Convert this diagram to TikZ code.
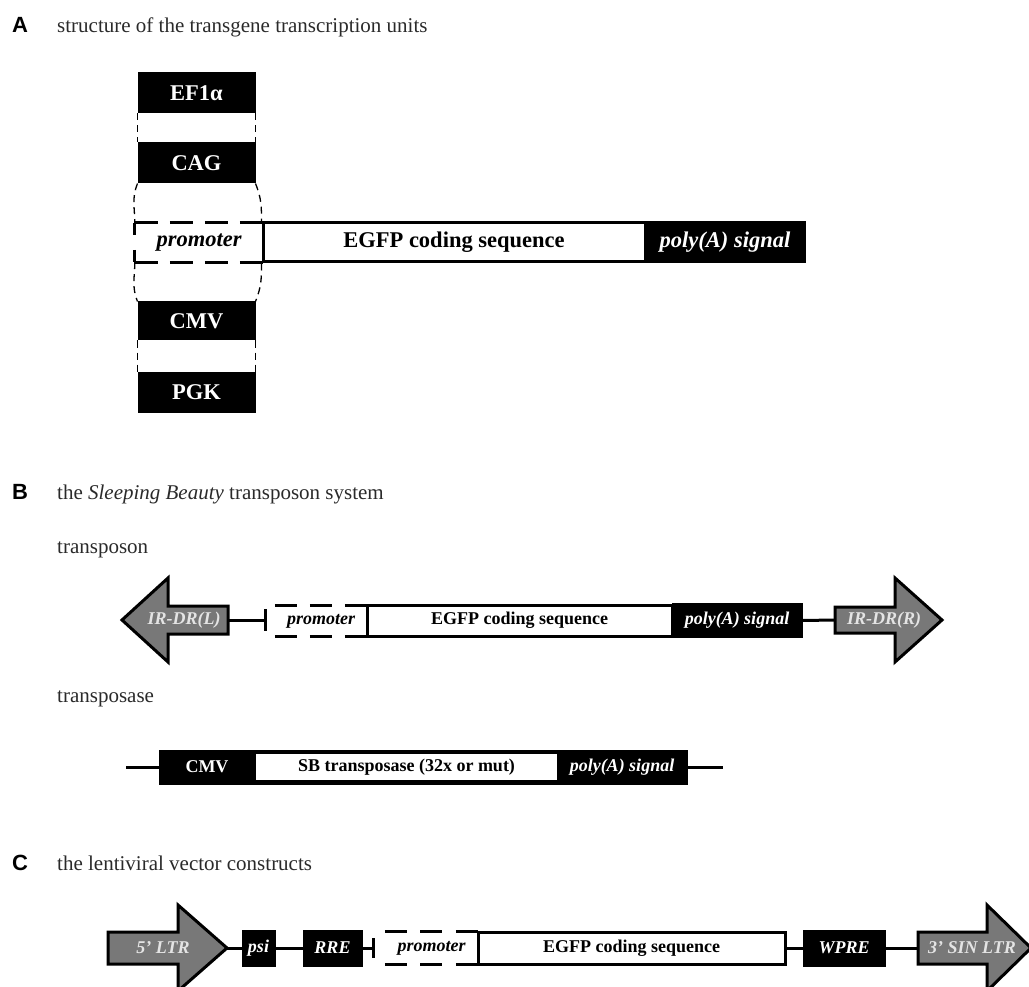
\documentclass[tikz,border=0pt]{standalone}
\usepackage{fontspec}
\setmainfont{Liberation Serif}
\newfontfamily\labelfont{Liberation Sans}
\usetikzlibrary{calc}
\definecolor{arrowgray}{HTML}{787878}
\definecolor{lighttext}{HTML}{E4E4E4}
\definecolor{titlegray}{HTML}{2A2A2A}
\begin{document}
\begin{tikzpicture}[x=1pt,y=-1pt,
 panel/.style={font=\labelfont\bfseries\fontsize{22}{26}\selectfont,anchor=base west,inner sep=0},
 ttl/.style={font=\fontsize{21}{25}\selectfont,anchor=base west,inner sep=0,text=titlegray},
 blkbox/.style={rectangle,fill=black,draw=black,line width=1pt,text=white,inner sep=0},
 wbox/.style={rectangle,fill=white,draw=black,line width=3pt,inner sep=0},
 txtA/.style={font=\bfseries\fontsize{22.5}{26}\selectfont},
 txtB/.style={font=\bfseries\fontsize{18}{21}\selectfont},
 itA/.style={font=\bfseries\itshape\fontsize{22.5}{26}\selectfont},
 itB/.style={font=\bfseries\itshape\fontsize{18}{21}\selectfont},
 conn/.style={line width=3pt},
 thindash/.style={line width=1.3pt,dash pattern=on 7pt off 5pt},
 arrowshape/.style={fill=arrowgray,draw=black,line width=3pt,line join=miter},
 arrowtxt/.style={text=lighttext,inner sep=0},
]
\useasboundingbox (0,0) rectangle (1029,987);
\clip (0,0) rectangle (1029,987);

% ---------------- Panel A ----------------
\node[panel] (labA) at (12,33) {A};
\node[ttl] (titA) at (57,33) {structure of the transgene transcription units};

\node[blkbox,txtA,minimum width=117pt,minimum height=40pt] (ef1) at (196.5,93) {EF1α};
\node[blkbox,txtA,minimum width=117pt,minimum height=40pt] (cag) at (196.5,163) {CAG};
\node[blkbox,txtA,minimum width=117pt,minimum height=38pt] (cmv) at (196.5,321) {CMV};
\node[blkbox,txtA,minimum width=117pt,minimum height=40pt] (pgk) at (196.5,392) {PGK};

\node[inner sep=0,minimum width=128pt,minimum height=39pt,itA] (promA) at (199,242.5) {promoter};
\node[wbox,txtA,minimum width=382pt,minimum height=39pt] (egfpA) at (454,242.5) {EGFP coding sequence};
\node[blkbox,itA,minimum width=160pt,minimum height=41pt] (pA) at (725,242.5) {poly(A) signal};

\draw[conn,dash pattern=on 23pt off 12pt] (promA.north west) -- (promA.north east);
\draw[conn,dash pattern=on 23pt off 12pt] (promA.south west) -- (promA.south east);
\draw[conn,dash pattern=on 12pt off 15pt] (promA.north west) -- (promA.south west);

\draw[thindash] (ef1.south west) -- (cag.north west);
\draw[thindash] (ef1.south east) -- (cag.north east);
\draw[thindash] (cmv.south west) -- (pgk.north west);
\draw[thindash] (cmv.south east) -- (pgk.north east);
\draw[thindash] (cag.south west) .. controls +(-6,15) and +(0,-15) .. (promA.north west);
\draw[thindash] (cag.south east) .. controls +(6,15) and +(0,-15) .. (egfpA.north west);
\draw[thindash] (promA.south west) .. controls +(0,15) and +(-6,-15) .. (cmv.north west);
\draw[thindash] (egfpA.south west) .. controls +(0,15) and +(6,-15) .. (cmv.north east);

% ---------------- Panel B ----------------
\node[panel] (labB) at (12,499) {B};
\node[ttl] (titB) at (57,499) {the \textit{Sleeping Beauty} transposon system};
\node[ttl] (tpson) at (57,553) {transposon};

\draw[arrowshape] (228,606) -- (168,606) -- (168,578) -- (122,620) -- (168,662) -- (168,634) -- (228,634) -- cycle;
\node[arrowtxt,itB] (irl) at (184,620) {IR-DR(L)};
\coordinate (irlEnd) at (228,620);
\coordinate (tB) at (265,620);
\draw[conn] (irlEnd) -- (tB);
\draw[conn] ($(tB)+(0,-11)$) -- ($(tB)+(0,11)$);

\node[inner sep=0,minimum width=92pt,minimum height=31pt,itB] (promB) at (321,621) {promoter};
\node[wbox,txtB,minimum width=305pt,minimum height=31pt] (egfpB) at (519.5,620.5) {EGFP coding sequence};
\node[blkbox,itB,minimum width=130pt,minimum height=34pt] (pB) at (737,620.5) {poly(A) signal};
\draw[conn,dash pattern=on 22pt off 13pt] (promB.north west) -- (promB.north east);
\draw[conn,dash pattern=on 22pt off 13pt] (promB.south west) -- (promB.south east);

\draw[arrowshape] (835,607) -- (895,607) -- (895,578) -- (942,620) -- (895,662) -- (895,633) -- (835,633) -- cycle;
\node[arrowtxt,itB] (irr) at (884,620) {IR-DR(R)};
\coordinate (irrStart) at (835,620);
\draw[conn] (pB.east) -- (irrStart);

\node[ttl] (tpase) at (57,702) {transposase};

\node[blkbox,minimum width=528pt,minimum height=34pt] (tpbar) at (423,767) {};
\node[rectangle,fill=white,inner sep=0,minimum width=301pt,minimum height=26pt,txtB] (sb) at (406.5,767) {SB transposase (32x or mut)};
\node[txtB,text=white,inner sep=0] (cmvB) at (207,767) {CMV};
\node[itB,text=white,inner sep=0] (pT) at (622,767) {poly(A) signal};
\coordinate (tpL) at (126,767);
\coordinate (tpR) at (723,767);
\draw[conn] (tpL) -- (tpbar.west);
\draw[conn] (tpbar.east) -- (tpR);

% ---------------- Panel C ----------------
\node[panel] (labC) at (12,870) {C};
\node[ttl] (titC) at (57,870) {the lentiviral vector constructs};

\draw[arrowshape] (108,932) -- (178,932) -- (178,905) -- (227,948) -- (178,991) -- (178,964) -- (108,964) -- cycle;
\node[arrowtxt,itB] (ltr5) at (163,948) {5’ LTR};
\coordinate (ltr5tip) at (227,948);

\node[blkbox,itB,minimum width=33pt,minimum height=36pt] (psi) at (258.5,948) {psi};
\node[blkbox,itB,minimum width=59pt,minimum height=36pt] (rre) at (332.5,948) {RRE};
\coordinate (tC) at (373,948);
\draw[conn] (ltr5tip) -- (psi.west);
\draw[conn] (psi.east) -- (rre.west);
\draw[conn] (rre.east) -- (tC);
\draw[conn] ($(tC)+(0,-10)$) -- ($(tC)+(0,10)$);

\node[inner sep=0,minimum width=93pt,minimum height=32pt,itB] (promC) at (431.5,948) {promoter};
\node[wbox,txtB,minimum width=307pt,minimum height=32pt] (egfpC) at (631.5,948) {EGFP coding sequence};
\draw[conn,dash pattern=on 22pt off 13.5pt] (promC.north west) -- (promC.north east);
\draw[conn,dash pattern=on 22pt off 13.5pt] (promC.south west) -- (promC.south east);

\node[blkbox,itB,minimum width=82pt,minimum height=36pt] (wpre) at (844,948) {WPRE};
\draw[conn] (egfpC.east) -- (wpre.west);

\draw[arrowshape] (918,932) -- (987,932) -- (987,905) -- (1031,948) -- (987,991) -- (987,964) -- (918,964) -- cycle;
\node[arrowtxt,itB] (ltr3) at (972,948) {3’ SIN LTR};
\coordinate (ltr3start) at (918,948);
\draw[conn] (wpre.east) -- (ltr3start);
\end{tikzpicture}
\end{document}
